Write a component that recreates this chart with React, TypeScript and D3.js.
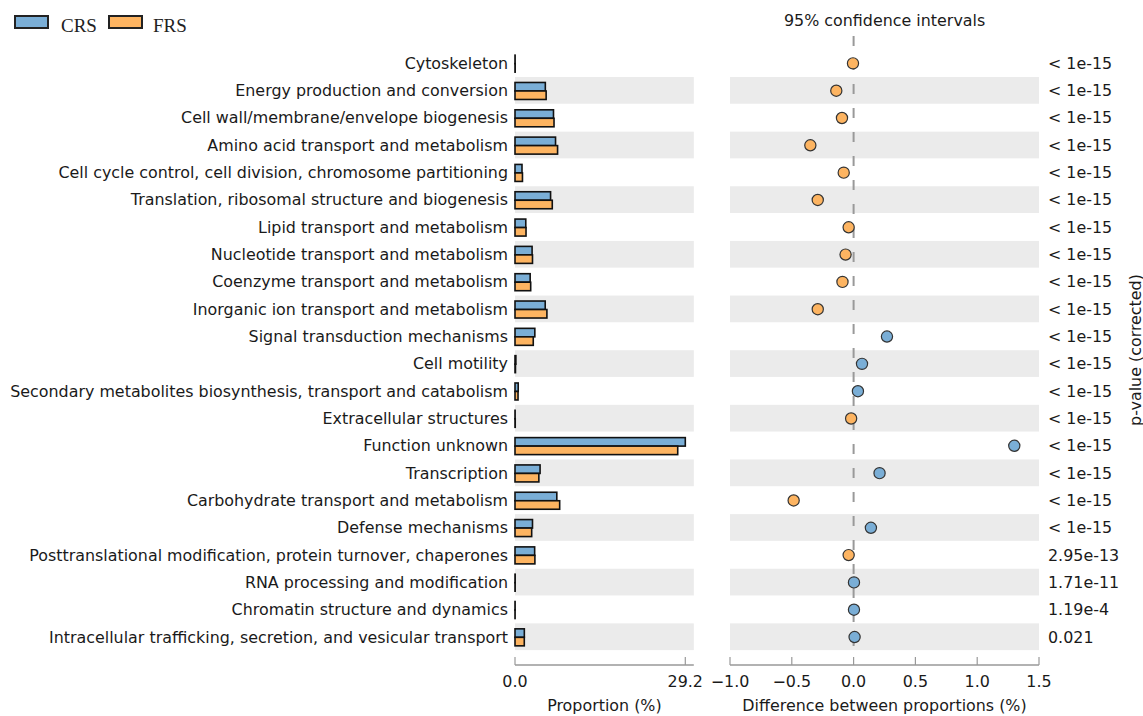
import React from 'react';
import * as d3 from 'd3';

const categories = [
  'Cytoskeleton',
  'Energy production and conversion',
  'Cell wall/membrane/envelope biogenesis',
  'Amino acid transport and metabolism',
  'Cell cycle control, cell division, chromosome partitioning',
  'Translation, ribosomal structure and biogenesis',
  'Lipid transport and metabolism',
  'Nucleotide transport and metabolism',
  'Coenzyme transport and metabolism',
  'Inorganic ion transport and metabolism',
  'Signal transduction mechanisms',
  'Cell motility',
  'Secondary metabolites biosynthesis, transport and catabolism',
  'Extracellular structures',
  'Function unknown',
  'Transcription',
  'Carbohydrate transport and metabolism',
  'Defense mechanisms',
  'Posttranslational modification, protein turnover, chaperones',
  'RNA processing and modification',
  'Chromatin structure and dynamics',
  'Intracellular trafficking, secretion, and vesicular transport',
];

// proportions (%)
const crs = [0.02, 5.2, 6.6, 6.95, 1.2, 6.1, 1.85, 2.93, 2.6, 5.18, 3.4, 0.15, 0.55, 0.02, 29.2, 4.3, 7.17, 3.0, 3.37, 0.03, 0.02, 1.6];
const frs = [0.03, 5.34, 6.69, 7.3, 1.28, 6.39, 1.89, 3.0, 2.69, 5.47, 3.13, 0.08, 0.52, 0.04, 27.9, 4.09, 7.66, 2.86, 3.41, 0.027, 0.017, 1.592];
// difference between proportions (%)
const diffs = [-0.005, -0.14, -0.094, -0.35, -0.08, -0.29, -0.04, -0.065, -0.09, -0.29, 0.27, 0.068, 0.035, -0.02, 1.3, 0.21, -0.485, 0.14, -0.04, 0.003, 0.003, 0.008];
const pvalues = [
  '< 1e-15', '< 1e-15', '< 1e-15', '< 1e-15', '< 1e-15', '< 1e-15', '< 1e-15', '< 1e-15',
  '< 1e-15', '< 1e-15', '< 1e-15', '< 1e-15', '< 1e-15', '< 1e-15', '< 1e-15', '< 1e-15',
  '< 1e-15', '< 1e-15', '2.95e-13', '1.71e-11', '1.19e-4', '0.021',
];
const diffTicks = [-1.0, -0.5, 0.0, 0.5, 1.0, 1.5];

const BLUE = '#7aaed6';
const ORANGE = '#fdb461';
const BAND = '#ebebeb';
const AXIS = '#999';
const FONT = 'DejaVu Sans, sans-serif';
const FS = 15.9;

export default function App() {
  const width = 1143;
  const height = 716;

  const y = d3.scaleBand<number>().domain(d3.range(categories.length)).range([49.7, 650.7]);
  const xp = d3.scaleLinear().domain([0, 29.2]).range([515, 685.3]);
  const xd = d3.scaleLinear().domain([-1, 1.5]).range([730, 1039]);
  const fmt = d3.format('.1f');
  const pRight = xp(29.2 * 1.05);
  const axisY = 665;
  const barH = 8.5;

  return (
    <div style={{ position: 'absolute', left: 0, top: 0 }}>
      <svg width={width} height={height} style={{ display: 'block', background: '#fff' }}>
        {/* legend */}
        <g fontFamily="Liberation Serif, Times New Roman, serif" fontSize={19} fill="#222">
          <rect x={15} y={16} width={33} height={12} fill={BLUE} stroke="#222" strokeWidth={2} />
          <text x={61} y={32}>CRS</text>
          <rect x={109} y={16} width={33} height={12} fill={ORANGE} stroke="#222" strokeWidth={2} />
          <text x={153} y={32}>FRS</text>
        </g>

        {/* bands */}
        {categories.map((c, i) =>
          i % 2 === 1 ? (
            <g key={'band' + i}>
              <rect x={xp(0)} y={y(i)!} width={pRight - xp(0)} height={y.bandwidth() - 0.6} fill={BAND} />
              <rect x={xd(-1)} y={y(i)!} width={xd(1.5) - xd(-1)} height={y.bandwidth() - 0.6} fill={BAND} />
            </g>
          ) : null
        )}

        {/* row labels */}
        <g fontFamily={FONT} fontSize={FS} fill="#1a1a1a">
          {categories.map((c, i) => (
            <text key={c} x={508} y={y(i)! + y.bandwidth() / 2} textAnchor="end" dominantBaseline="central">
              {c}
            </text>
          ))}
        </g>

        {/* bars */}
        {categories.map((c, i) => {
          const cy = y(i)! + y.bandwidth() / 2 + 0.3;
          return (
            <g key={'bar' + i} stroke="#111" strokeWidth={1.6}>
              <rect x={xp(0)} y={cy - barH} width={xp(crs[i]) - xp(0)} height={barH} fill={BLUE} />
              <rect x={xp(0)} y={cy} width={xp(frs[i]) - xp(0)} height={barH} fill={ORANGE} />
            </g>
          );
        })}

        {/* zero line */}
        <line x1={xd(0)} x2={xd(0)} y1={36} y2={650} stroke="#999" strokeWidth={2} strokeDasharray="10,14" />

        {/* difference dots */}
        {diffs.map((d, i) => (
          <circle
            key={'dot' + i}
            cx={xd(d)}
            cy={y(i)! + y.bandwidth() / 2}
            r={5.6}
            fill={d >= 0 ? BLUE : ORANGE}
            stroke="#333"
            strokeWidth={1.2}
          />
        ))}

        {/* p-values */}
        <g fontFamily={FONT} fontSize={FS} fill="#1a1a1a">
          {pvalues.map((p, i) => (
            <text key={'p' + i} x={1048} y={y(i)! + y.bandwidth() / 2} dominantBaseline="central">
              {p}
            </text>
          ))}
          <text transform="translate(1135,350) rotate(-90)" textAnchor="middle" dominantBaseline="central">
            p-value (corrected)
          </text>
          <text x={xd(0) + 31} y={26} textAnchor="middle">95% confidence intervals</text>
        </g>

        {/* left axis */}
        <g fontFamily={FONT} fontSize={FS} fill="#1a1a1a">
          <line x1={xp(0)} x2={pRight} y1={axisY} y2={axisY} stroke={AXIS} strokeWidth={1.5} />
          {[0, 29.2].map((t) => (
            <g key={'lt' + t}>
              <line x1={xp(t)} x2={xp(t)} y1={axisY - 8} y2={axisY} stroke={AXIS} strokeWidth={1.2} />
              <text x={xp(t)} y={687} textAnchor="middle">{fmt(t)}</text>
            </g>
          ))}
          <text x={(xp(0) + pRight) / 2} y={711} textAnchor="middle">Proportion (%)</text>
        </g>

        {/* right axis */}
        <g fontFamily={FONT} fontSize={FS} fill="#1a1a1a">
          <line x1={xd(-1)} x2={xd(1.5)} y1={axisY} y2={axisY} stroke={AXIS} strokeWidth={1.5} />
          {diffTicks.map((t) => (
            <g key={'rt' + t}>
              <line x1={xd(t)} x2={xd(t)} y1={axisY - 8} y2={axisY} stroke={AXIS} strokeWidth={1.2} />
              <text x={xd(t)} y={687} textAnchor="middle">{fmt(t)}</text>
            </g>
          ))}
          <text x={(xd(-1) + xd(1.5)) / 2} y={711} textAnchor="middle">Difference between proportions (%)</text>
        </g>
      </svg>
    </div>
  );
}
